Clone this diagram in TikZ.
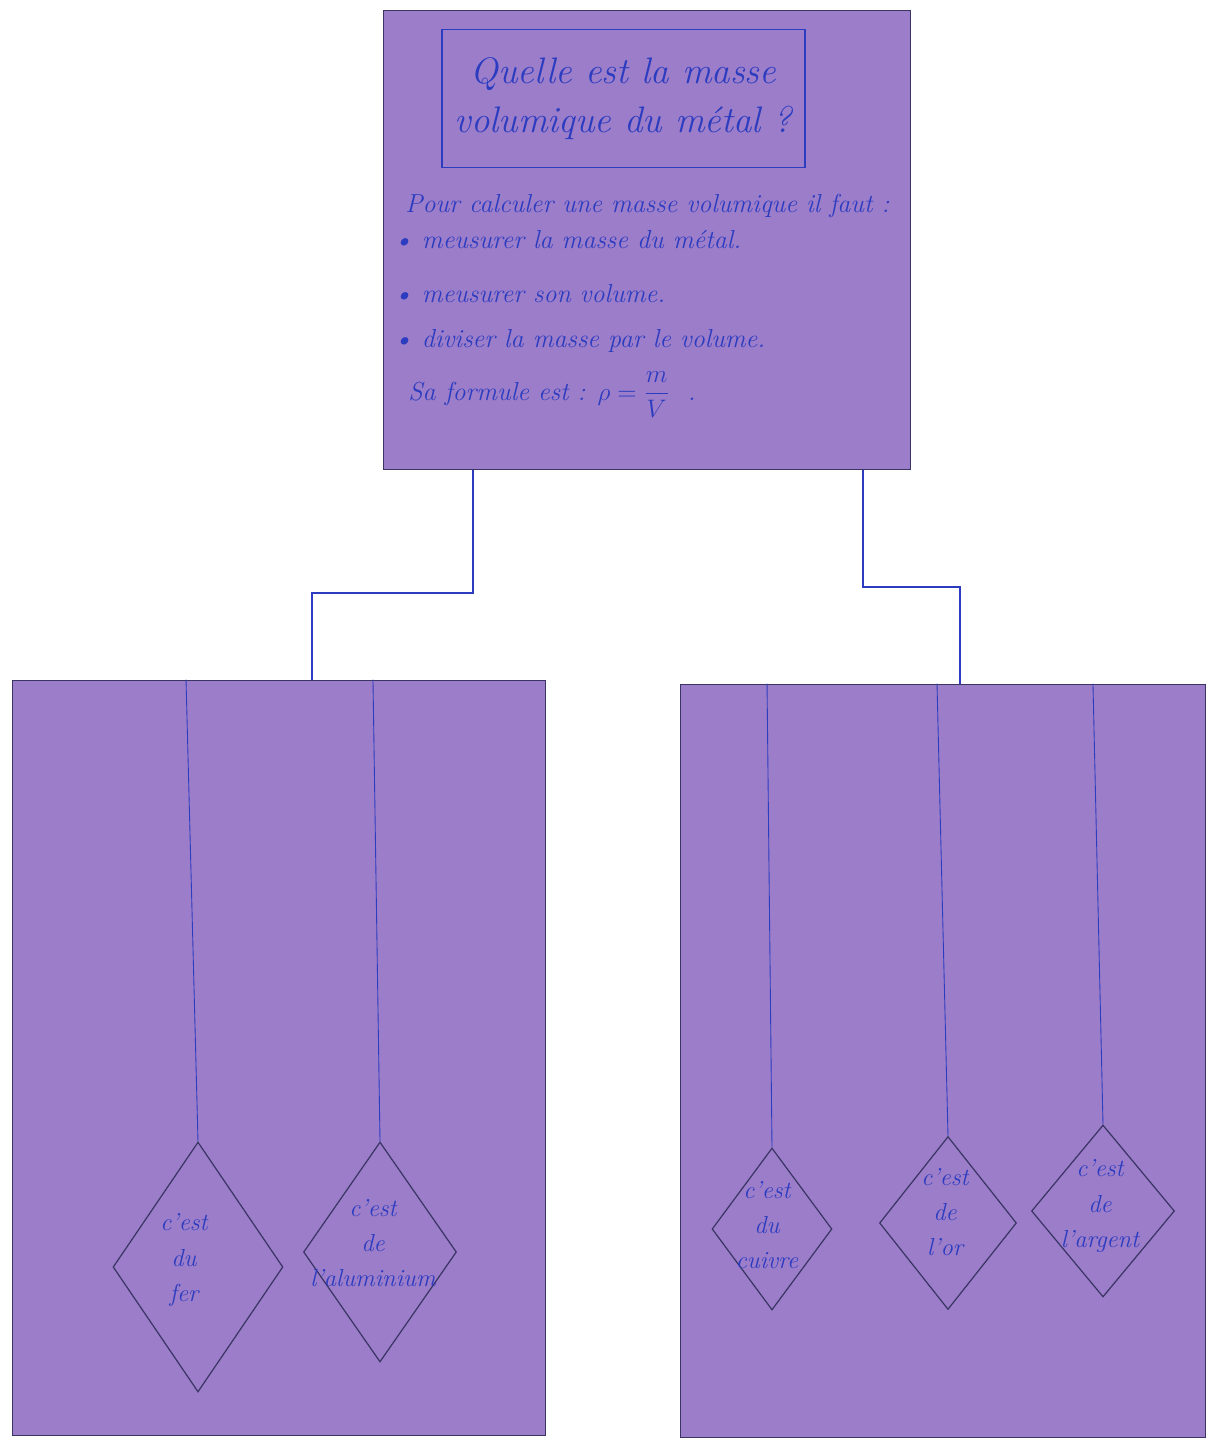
\documentclass[tikz,border=0pt]{standalone}
\usepackage{tikz}
\usetikzlibrary{positioning}
\usetikzlibrary{shapes.geometric}
\definecolor{carton}{HTML}{9C7DC9}
\definecolor{encre}{HTML}{2B3CC0}
\definecolor{crayon}{HTML}{3B3566}

\begin{document}
\begin{tikzpicture}[x=0.02cm,y=-0.02cm,
		carte/.style={draw=crayon,fill=carton,line width=0.6pt,inner sep=0pt},
		fil/.style={draw=encre,line width=0.9pt},
		ficelle/.style={draw=encre,line width=0.5pt},
		losange/.style={diamond,draw=crayon,line width=0.7pt,inner sep=0pt},
		ecrit/.style={text=encre,font=\fontsize{14}{20}\selectfont\itshape,align=center,inner sep=0pt},
		ligne/.style={text=encre,font=\fontsize{14.8}{17}\selectfont\itshape,anchor=base west,inner sep=0pt}]
		\fill[white] (0,0) rectangle (1221,1441);
		\useasboundingbox (0,0) rectangle (1221,1441);
		
		% carte du haut
		\node[carte,minimum width=10.56cm,minimum height=9.18cm] (top) at (647,240) {};
		\node[draw=encre,line width=0.7pt,minimum width=7.26cm,minimum height=2.76cm,inner sep=0pt,
			text=encre,font=\fontsize{21}{28}\selectfont\itshape,align=center]
			(question) [below=0.38cm of top.north,xshift=-0.47cm] {Quelle est la masse\\volumique du métal ?};
		\node[ligne] (l_1) at (405,212) {Pour calculer une masse volumique il faut :};
		\node[ligne] (l_2) at (393,248) {\textbullet\ meusurer la masse du métal.};
		\node[ligne] (l_3) at (393,302) {\textbullet\ meusurer son volume.};
		\node[ligne] (l_4) at (393,347) {\textbullet\ diviser la masse par le volume.};
		\node[ligne] (l_5) at (408,400) {Sa formule est : $\rho=\displaystyle\frac{m}{V}$ \ .};
		
		% les deux volets
		\node[carte,minimum width=10.68cm,minimum height=15.12cm] (gauche) at (279,1058) {};
		\node[carte,minimum width=10.52cm,minimum height=15.08cm] (droite) at (943,1061) {};
		
		\draw[fil] ([xshift=-3.48cm]top.south) -- ++(0,-2.46cm) -| ([xshift=0.66cm]gauche.north);
		\draw[fil] ([xshift=4.32cm]top.south) -- ++(0,-2.34cm) -| ([xshift=0.34cm]droite.north);
		
		% les losanges
		\node[losange,minimum width=3.4cm,minimum height=5cm,
			label={[ecrit,xshift=-0.28cm,yshift=0.14cm]center:c'est\\du\\fer}] (fer) at (198,1267) {};
		\node[losange,minimum width=3.06cm,minimum height=4.4cm,
			label={[ecrit,xshift=-0.14cm,yshift=0.18cm]center:c'est\\de\\l'aluminium}] (alu) at (380,1252) {};
		\node[losange,minimum width=2.4cm,minimum height=3.24cm,
			label={[ecrit,xshift=-0.1cm,yshift=0.08cm]center:c'est\\du\\cuivre}] (cuivre) at (772,1229) {};
		\node[losange,minimum width=2.74cm,minimum height=3.46cm,
			label={[ecrit,xshift=-0.06cm,yshift=0.22cm]center:c'est\\de\\l'or}] (or) at (948,1223) {};
		\node[losange,minimum width=2.86cm,minimum height=3.44cm,
			label={[ecrit,xshift=-0.06cm,yshift=0.1cm]center:c'est\\de\\l'argent}] (argent) at (1103,1211) {};
		
		\draw[ficelle] ([xshift=-1.86cm]gauche.north) -- (fer.north);
		\draw[ficelle] ([xshift=1.88cm]gauche.north) -- (alu.north);
		\draw[ficelle] ([xshift=-3.52cm]droite.north) -- (cuivre.north);
		\draw[ficelle] ([xshift=-0.12cm]droite.north) -- (or.north);
		\draw[ficelle] ([xshift=3cm]droite.north) -- (argent.north);
	\end{tikzpicture}
\end{document}
